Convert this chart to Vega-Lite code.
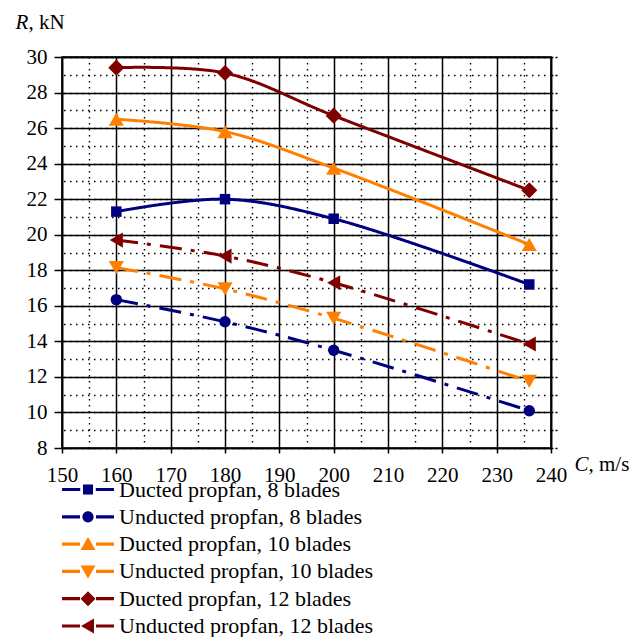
{
  "$schema": "https://vega.github.io/schema/vega-lite/v6.json",
  "width": 489,
  "height": 391,
  "autosize": {"type": "none"},
  "padding": {"left": 62, "top": 57, "right": 79, "bottom": 189},
  "background": "white",
  "config": {
    "view": {"stroke": "#000", "strokeWidth": 1.6},
    "font": "Liberation Serif",
    "axis": {"labelFont": "Liberation Serif", "titleFont": "Liberation Serif", "labelColor": "#000", "titleColor": "#000", "domainColor": "#000", "domainWidth": 1.6, "tickColor": "#000"},
    "legend": {
      "orient": "none",
      "legendX": 15,
      "legendY": 421.5,
      "padding": 0,
      "symbolSize": 400,
      "symbolStrokeWidth": 0,
      "symbolOpacity": 1,
      "rowPadding": 5.3,
      "labelOffset": 20,
      "labelFont": "Liberation Serif",
      "labelFontSize": 22,
      "labelColor": "#000",
      "labelLimit": 0
    }
  },
  "data": {
    "values": [
      {"series": "Ducted propfan, 8 blades", "C": 160, "R": 21.3},
      {"series": "Ducted propfan, 8 blades", "C": 180, "R": 22.0},
      {"series": "Ducted propfan, 8 blades", "C": 200, "R": 20.9},
      {"series": "Ducted propfan, 8 blades", "C": 236, "R": 17.2},
      {"series": "Unducted propfan, 8 blades", "C": 160, "R": 16.35},
      {"series": "Unducted propfan, 8 blades", "C": 180, "R": 15.1},
      {"series": "Unducted propfan, 8 blades", "C": 200, "R": 13.5},
      {"series": "Unducted propfan, 8 blades", "C": 236, "R": 10.1},
      {"series": "Ducted propfan, 10 blades", "C": 160, "R": 26.5},
      {"series": "Ducted propfan, 10 blades", "C": 180, "R": 25.8},
      {"series": "Ducted propfan, 10 blades", "C": 200, "R": 23.75},
      {"series": "Ducted propfan, 10 blades", "C": 236, "R": 19.45},
      {"series": "Unducted propfan, 10 blades", "C": 160, "R": 18.15},
      {"series": "Unducted propfan, 10 blades", "C": 180, "R": 16.95},
      {"series": "Unducted propfan, 10 blades", "C": 200, "R": 15.3},
      {"series": "Unducted propfan, 10 blades", "C": 236, "R": 11.75},
      {"series": "Ducted propfan, 12 blades", "C": 160, "R": 29.4},
      {"series": "Ducted propfan, 12 blades", "C": 180, "R": 29.1},
      {"series": "Ducted propfan, 12 blades", "C": 200, "R": 26.7},
      {"series": "Ducted propfan, 12 blades", "C": 236, "R": 22.5},
      {"series": "Unducted propfan, 12 blades", "C": 160, "R": 19.7},
      {"series": "Unducted propfan, 12 blades", "C": 180, "R": 18.8},
      {"series": "Unducted propfan, 12 blades", "C": 200, "R": 17.3},
      {"series": "Unducted propfan, 12 blades", "C": 236, "R": 13.85}
    ]
  },
  "resolve": {
    "axis": {"x": "independent", "y": "independent"},
    "scale": {"color": "independent", "shape": "independent"}
  },
  "layer": [
    {
      "mark": {"type": "line", "strokeWidth": 3, "interpolate": "catmull-rom", "strokeCap": "butt"},
      "encoding": {
        "x": {
          "field": "C", "type": "quantitative",
          "scale": {"domain": [150, 240], "nice": false, "zero": false},
          "axis": {
            "orient": "bottom",
            "values": [150, 160, 170, 180, 190, 200, 210, 220, 230, 240],
            "grid": true, "gridColor": "#000", "gridWidth": 1.5, "gridOpacity": 1,
            "tickSize": 5, "tickWidth": 1.5, "labelPadding": 11, "labelFont": "Liberation Serif", "labelFontSize": 21, "labelFlush": false,
            "title": "C", "titleFontStyle": "italic", "titleFontWeight": "normal", "titleFontSize": 21,
            "titleX": 512, "titleY": 22, "titleAlign": "left", "titleBaseline": "alphabetic", "titleAnchor": null
          }
        },
        "y": {
          "field": "R", "type": "quantitative",
          "scale": {"domain": [8, 30], "nice": false, "zero": false},
          "axis": {
            "orient": "left",
            "values": [8, 10, 12, 14, 16, 18, 20, 22, 24, 26, 28, 30],
            "grid": true, "gridColor": "#000", "gridWidth": 1.5, "gridOpacity": 1,
            "tickSize": 8, "tickWidth": 1.5, "labelPadding": 7, "labelFont": "Liberation Serif", "labelFontSize": 21, "labelFlush": false,
            "title": "R", "titleFontStyle": "italic", "titleFontWeight": "normal", "titleFontSize": 21, "titleAngle": 0,
            "titleX": -47, "titleY": -29, "titleAlign": "left", "titleBaseline": "alphabetic", "titleAnchor": null
          }
        },
        "color": {
          "field": "series", "type": "nominal",
          "scale": {"domain": ["Ducted propfan, 8 blades", "Unducted propfan, 8 blades", "Ducted propfan, 10 blades", "Unducted propfan, 10 blades", "Ducted propfan, 12 blades", "Unducted propfan, 12 blades"],
                    "range": ["#000080", "#000080", "#FF8000", "#FF8000", "#800000", "#800000"]},
          "legend": null
        },
        "strokeDash": {
          "field": "series", "type": "nominal",
          "scale": {"domain": ["Ducted propfan, 8 blades", "Unducted propfan, 8 blades", "Ducted propfan, 10 blades", "Unducted propfan, 10 blades", "Ducted propfan, 12 blades", "Unducted propfan, 12 blades"],
                    "range": [[1, 0], [22, 9, 4, 9], [1, 0], [22, 9, 4, 9], [1, 0], [22, 9, 4, 9]]},
          "legend": null
        }
      }
    },
    {
      "mark": {"type": "point", "filled": true, "opacity": 1},
      "encoding": {
        "x": {
          "field": "C", "type": "quantitative",
          "axis": {
            "orient": "top",
            "values": [155, 165, 175, 185, 195, 205, 215, 225, 235],
            "grid": true, "gridColor": "#000", "gridWidth": 1.4, "gridDash": [1.5, 4.5], "gridOpacity": 1,
            "ticks": false, "labels": false,
            "title": ", kN", "titleFontStyle": "normal", "titleFontWeight": "normal", "titleFontSize": 21,
            "titleX": -34, "titleY": -29, "titleAlign": "left", "titleBaseline": "alphabetic", "titleAnchor": null
          }
        },
        "y": {
          "field": "R", "type": "quantitative",
          "axis": {
            "orient": "right",
            "values": [8, 9, 10, 11, 12, 13, 14, 15, 16, 17, 18, 19, 20, 21, 22, 23, 24, 25, 26, 27, 28, 29, 30],
            "grid": true, "gridColor": "#000", "gridWidth": 1.4, "gridDash": [1.5, 4.5], "gridOpacity": 1,
            "ticks": true, "tickSize": 6, "tickWidth": 1.5, "tickDash": [2, 2], "labels": false,
            "title": ", m/s", "titleFontStyle": "normal", "titleFontWeight": "normal", "titleFontSize": 21, "titleAngle": 0,
            "titleX": 37, "titleY": 413, "titleAlign": "left", "titleBaseline": "alphabetic", "titleAnchor": null
          }
        },
        "color": {
          "field": "series", "type": "nominal",
          "scale": {"domain": ["Ducted propfan, 8 blades", "Unducted propfan, 8 blades", "Ducted propfan, 10 blades", "Unducted propfan, 10 blades", "Ducted propfan, 12 blades", "Unducted propfan, 12 blades"],
                    "range": ["#000080", "#000080", "#FF8000", "#FF8000", "#800000", "#800000"]},
          "legend": null
        },
        "shape": {
          "field": "series", "type": "nominal",
          "scale": {"domain": ["Ducted propfan, 8 blades", "Unducted propfan, 8 blades", "Ducted propfan, 10 blades", "Unducted propfan, 10 blades", "Ducted propfan, 12 blades", "Unducted propfan, 12 blades"],
                    "range": ["square", "circle", "triangle-up", "triangle-down", "diamond", "triangle-left"]},
          "legend": null
        },
        "size": {
          "field": "series", "type": "nominal",
          "scale": {"type": "ordinal", "domain": ["Ducted propfan, 8 blades", "Unducted propfan, 8 blades", "Ducted propfan, 10 blades", "Unducted propfan, 10 blades", "Ducted propfan, 12 blades", "Unducted propfan, 12 blades"],
                    "range": [110, 130, 230, 230, 260, 230]},
          "legend": null
        }
      }
    },
    {
      "mark": {"type": "point", "filled": true, "opacity": 0, "strokeWidth": 0},
      "encoding": {
        "x": {"field": "C", "type": "quantitative", "axis": null},
        "y": {"field": "R", "type": "quantitative", "axis": null},
        "color": {
          "field": "series", "type": "nominal", "title": null,
          "scale": {"domain": ["Ducted propfan, 8 blades", "Unducted propfan, 8 blades", "Ducted propfan, 10 blades", "Unducted propfan, 10 blades", "Ducted propfan, 12 blades", "Unducted propfan, 12 blades"],
                    "range": ["#000080", "#000080", "#FF8000", "#FF8000", "#800000", "#800000"]}
        },
        "shape": {
          "field": "series", "type": "nominal", "title": null,
          "scale": {"domain": ["Ducted propfan, 8 blades", "Unducted propfan, 8 blades", "Ducted propfan, 10 blades", "Unducted propfan, 10 blades", "Ducted propfan, 12 blades", "Unducted propfan, 12 blades"],
                    "range": [
                      "M-2.6,-0.16H-0.78V0.16H-2.6Z M0.78,-0.16H2.6V0.16H0.78Z M-0.5,-0.5H0.5V0.5H-0.5Z",
                      "M-2.6,-0.16H-0.8V0.16H-2.6Z M0.8,-0.16H2.6V0.16H0.8Z M-0.56,0A0.56,0.56,0,1,0,0.56,0A0.56,0.56,0,1,0,-0.56,0Z",
                      "M-2.6,-0.16H-0.8V0.16H-2.6Z M0.8,-0.16H2.6V0.16H0.8Z M0,-0.7L0.75,0.6L-0.75,0.6Z",
                      "M-2.6,-0.16H-0.8V0.16H-2.6Z M0.8,-0.16H2.6V0.16H0.8Z M0,0.7L0.75,-0.6L-0.75,-0.6Z",
                      "M-2.6,-0.16H-0.8V0.16H-2.6Z M0.8,-0.16H2.6V0.16H0.8Z M0,-0.75L0.75,0L0,0.75L-0.75,0Z",
                      "M-2.6,-0.16H-0.8V0.16H-2.6Z M0.8,-0.16H2.6V0.16H0.8Z M-0.7,0L0.6,-0.75L0.6,0.75Z"
                    ]}
        }
      }
    }
  ]
}
